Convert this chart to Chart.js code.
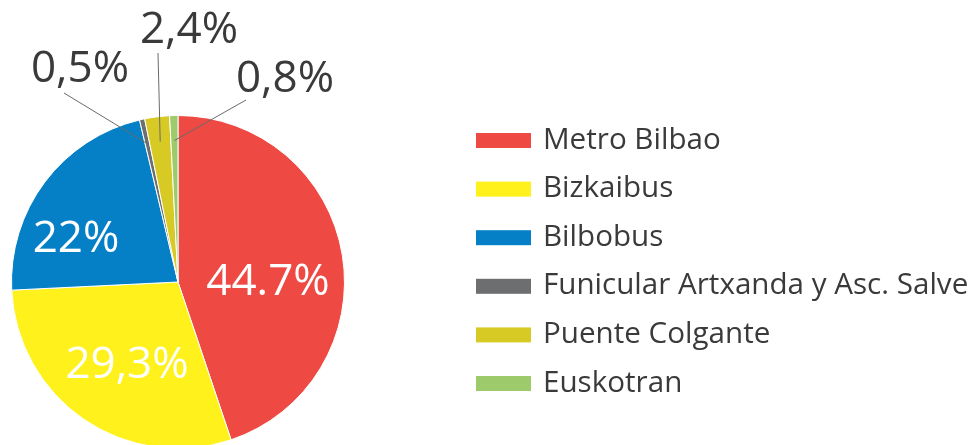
<!DOCTYPE html>
<html>
<head>
<meta charset="utf-8">
<script src="https://cdn.jsdelivr.net/npm/chart.js@4/dist/chart.umd.min.js"></script>
<style>
  html, body { margin: 0; padding: 0; background: #ffffff; overflow: hidden; }
  #wrap { position: absolute; left: 0; top: 0; width: 969px; height: 452px; }
</style>
</head>
<body>
<div id="wrap"><canvas id="c" width="969" height="452"></canvas></div>
<script>
// ---- data ----
const categories = ["Metro Bilbao", "Bizkaibus", "Bilbobus", "Funicular Artxanda y Asc. Salve", "Puente Colgante", "Euskotran"];
const shares = [44.7, 29.3, 22, 0.5, 2.4, 0.8];
const valueLabels = ["44.7%", "29,3%", "22%", "0,5%", "2,4%", "0,8%"];
const colors = ["#EE4A43", "#FFF11C", "#0580C6", "#6D6E70", "#D8CA24", "#9DCB6C"];

// label placement relative to pie centre (px)
const labelPlacement = [
  { dx: 90,  dy: 13,   inside: true },
  { dx: -51, dy: 96,   inside: true },
  { dx: -102, dy: -30, inside: true },
  { dx: -98, dy: -200, inside: false, lx: -114, ly: -189 },
  { dx: 11,  dy: -239, inside: false, lx: -20,  ly: -229 },
  { dx: 107, dy: -190, inside: false, lx: 68,   ly: -182 }
];

const FONT = '"Open Sans", "Noto Sans", "DejaVu Sans", sans-serif';

const labelPlugin = {
  id: 'sliceLabels',
  afterDatasetsDraw(chart) {
    const ctx = chart.ctx;
    const meta = chart.getDatasetMeta(0);
    ctx.save();
    meta.data.forEach((arc, i) => {
      const p = labelPlacement[i];
      const cx = arc.x, cy = arc.y;
      const r = arc.outerRadius;
      ctx.font = '44px ' + FONT;
      ctx.textAlign = 'center';
      ctx.textBaseline = 'alphabetic';
      if (p.inside) {
        ctx.fillStyle = '#ffffff';
        ctx.fillText(valueLabels[i], cx + p.dx, cy + p.dy);
      } else {
        const mid = (arc.startAngle + arc.endAngle) / 2;
        const ix = cx + Math.cos(mid) * r * 0.85;
        const iy = cy + Math.sin(mid) * r * 0.85;
        ctx.strokeStyle = '#6a6a6a';
        ctx.lineWidth = 1;
        ctx.beginPath();
        ctx.moveTo(cx + p.lx, cy + p.ly);
        ctx.lineTo(ix, iy);
        ctx.stroke();
        ctx.fillStyle = '#3a3a3a';
        ctx.fillText(valueLabels[i], cx + p.dx, cy + p.dy);
      }
    });
    ctx.restore();
  }
};

const legendPlugin = {
  id: 'sideLegend',
  afterDraw(chart) {
    const ctx = chart.ctx;
    const ds = chart.data.datasets[0];
    ctx.save();
    chart.data.labels.forEach((lab, i) => {
      const yc = 140.5 + i * 48.6;
      ctx.fillStyle = ds.backgroundColor[i];
      ctx.fillRect(476, yc - 7.5, 55, 15);
      ctx.fillStyle = '#3a3a3a';
      ctx.font = '29.6px ' + FONT;
      ctx.textAlign = 'left';
      ctx.textBaseline = 'alphabetic';
      ctx.fillText(lab, 543, yc + 8);
    });
    ctx.restore();
  }
};

new Chart(document.getElementById('c'), {
  type: 'pie',
  data: {
    labels: categories,
    datasets: [{
      data: shares,
      backgroundColor: colors,
      borderColor: '#ffffff',
      borderWidth: 1
    }]
  },
  options: {
    responsive: false,
    animation: false,
    layout: { padding: { left: 0, right: 613, top: 115, bottom: 3 } },
    plugins: {
      legend: { display: false },
      tooltip: { enabled: false },
      title: { display: false }
    }
  },
  plugins: [labelPlugin, legendPlugin]
});
</script>
</body>
</html>
